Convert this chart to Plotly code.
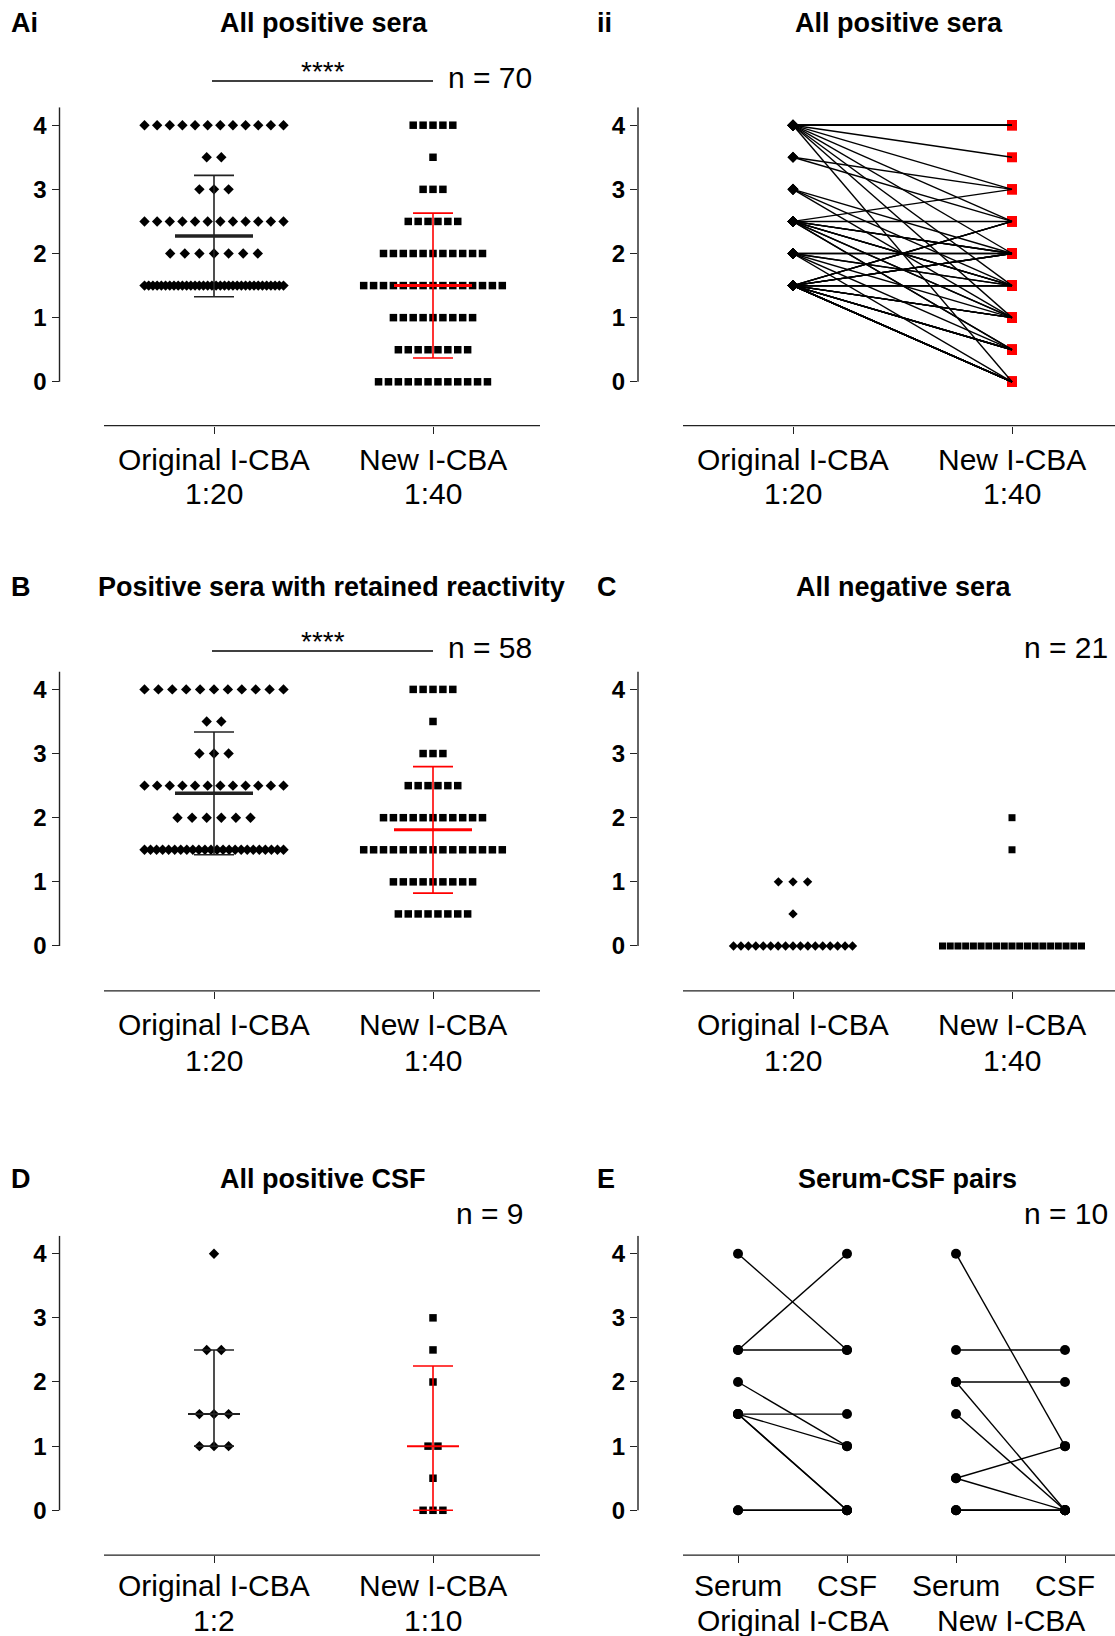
import numpy as np
import plotly.graph_objects as go

W, H = 1115, 1636
FONT = "Liberation Sans, Arial, Helvetica, sans-serif"

# ---------------- data ----------------
# All positive sera (paired): original I-CBA 1:20 score vs new I-CBA 1:40 score
ai_original = [4, 4, 4, 4, 4, 4, 4, 4, 4, 4, 4, 4,
               3.5, 3.5,
               3, 3, 3,
               2.5, 2.5, 2.5, 2.5, 2.5, 2.5, 2.5, 2.5, 2.5, 2.5, 2.5, 2.5,
               2, 2, 2, 2, 2, 2, 2,
               1.5, 1.5, 1.5, 1.5, 1.5, 1.5, 1.5, 1.5, 1.5, 1.5, 1.5, 1.5,
               1.5, 1.5, 1.5, 1.5, 1.5, 1.5, 1.5, 1.5, 1.5, 1.5, 1.5, 1.5,
               1.5, 1.5, 1.5, 1.5, 1.5, 1.5, 1.5, 1.5, 1.5, 1.5]
ai_new = [4, 4, 4, 4, 4, 3.5, 3, 2.5, 2, 1.5, 1, 0,
          3, 2.5,
          2, 1.5, 1,
          3, 2.5, 2, 2, 2, 1.5, 1.5, 1.5, 1, 1, 0.5, 0.5,
          2, 2, 1.5, 1.5, 1, 0.5, 0,
          2.5, 2.5, 2.5, 2, 2, 2, 2, 1.5, 1.5, 1.5, 1.5, 1.5,
          1.5, 1.5, 1.5, 1, 1, 1, 1, 0.5, 0.5, 0.5, 0.5, 0.5,
          0, 0, 0, 0, 0, 0, 0, 0, 0, 0]

# Positive sera with retained reactivity = pairs whose new score is > 0
b_original = [o for o, n in zip(ai_original, ai_new) if n > 0]
b_new = [n for n in ai_new if n > 0]

# All negative sera
c_original = [0, 0, 0, 0, 0, 0, 0, 0, 0, 0, 0, 0, 0, 0, 0, 0, 0, 0.5, 1, 1, 1]
c_new = [0, 0, 0, 0, 0, 0, 0, 0, 0, 0, 0, 0, 0, 0, 0, 0, 0, 0, 0, 1.5, 2]

# All positive CSF
d_original = [4, 2.5, 2.5, 1.5, 1.5, 1.5, 1, 1, 1]
d_new = [3, 2.5, 2, 1, 1, 0.5, 0, 0, 0]

# Serum-CSF pairs
e_orig_serum = [4, 2.5, 2.5, 2, 1.5, 1.5, 1.5, 1.5, 0, 0]
e_orig_csf = [2.5, 4, 2.5, 1, 1.5, 1, 0, 0, 0, 0]
e_new_serum = [4, 2.5, 2, 2, 1.5, 0.5, 0.5, 0, 0, 0]
e_new_csf = [1, 2.5, 2, 0, 0, 1, 0, 0, 0, 0]

y_ticks = [0, 1, 2, 3, 4]
assays = ["Original I-CBA", "New I-CBA"]
sera_dil = ["1:20", "1:40"]
csf_dil = ["1:2", "1:10"]
pair_samples = ["Serum", "CSF", "Serum", "CSF"]

titles = ["All positive sera", "All positive sera",
          "Positive sera with retained reactivity", "All negative sera",
          "All positive CSF", "Serum-CSF pairs"]
letters = ["Ai", "ii", "B", "C", "D", "E"]
n_labels = {1: "n = 70", 3: "n = 58", 4: "n = 21", 5: "n = 9", 6: "n = 10"}
signif = {1: "****", 3: "****"}

# ---------------- geometry (pixels) ----------------
ROWS = {1: (125.2, 381.8, 425.6, 23, 459, 494, 78),
        2: (689.4, 946.0, 990.9, 587, 1024, 1060, 648),
        3: (1253.7, 1510.3, 1555.1, 1179, 1585, 1620, 1213)}
LEFT = dict(yax=59.5, xstart=104, xright=540, cats=[214, 433], letter=9, nx=490)
RIGHT = dict(yax=638, xstart=683, xright=1115, cats=[793, 1012], letter=595, nx=1066)
PANELS = {
    1: dict(LEFT, row=1, title_x=324),
    2: dict(RIGHT, row=1, title_x=899),
    3: dict(LEFT, row=2, title_x=331),
    4: dict(RIGHT, row=2, title_x=904),
    5: dict(LEFT, row=3, title_x=323),
    6: dict(RIGHT, row=3, title_x=907, cats=[738, 847, 956, 1065]),
}
TOP_VAL = 4.28
LBL = 30

fig = go.Figure()
layout = {}
shapes = []
annotations = []
geo = {}


def px(xp, yp):
    return xp / W, 1 - yp / H


def ann(text, xp, yp, size, bold=False, xanchor="center"):
    x, y = px(xp, yp)
    annotations.append(dict(text=text, x=x, y=y, xref="paper", yref="paper",
                            xanchor=xanchor, yanchor="middle", showarrow=False,
                            font=dict(family=FONT, size=size, color="black",
                                      weight="bold" if bold else "normal")))


for k, p in PANELS.items():
    y4, y0, xax, ty, l1, l2, ny = ROWS[p["row"]]
    cats = p["cats"]
    ppx = cats[1] - cats[0]
    ppy = (y0 - y4) / 4
    top_px = y4 - (TOP_VAL - 4) * ppy
    xr = [-(cats[0] - p["yax"]) / ppx, (p["xright"] - cats[0]) / ppx]
    yr = [-(xax - y0) / ppy, TOP_VAL]
    sfx = "" if k == 1 else str(k)
    layout["xaxis" + sfx] = dict(domain=[p["yax"] / W, p["xright"] / W], range=xr,
                                 anchor="y" + sfx, showgrid=False, zeroline=False,
                                 showline=False, ticks="outside", ticklen=7, tickwidth=1.4,
                                 tickcolor="#222", tickvals=list(range(len(cats))),
                                 showticklabels=False, fixedrange=True)
    layout["yaxis" + sfx] = dict(domain=[1 - xax / H, 1 - top_px / H], range=yr,
                                 anchor="x" + sfx, showgrid=False, zeroline=False,
                                 showline=False, ticks="outside", ticklen=7, tickwidth=1.4,
                                 tickcolor="#222", tickvals=y_ticks,
                                 tickfont=dict(family=FONT, size=24, color="black", weight="bold"),
                                 fixedrange=True)
    xs_val = -(cats[0] - p["xstart"]) / ppx
    shapes.append(dict(type="line", xref="x" + sfx + " domain", yref="y" + sfx,
                       x0=0, x1=0, y0=0, y1=TOP_VAL, line=dict(color="#222", width=1.4)))
    shapes.append(dict(type="line", xref="x" + sfx, yref="y" + sfx + " domain",
                       x0=xs_val, x1=xr[1], y0=0, y1=0, line=dict(color="#222", width=1.4)))
    geo[k] = dict(ppx=ppx, sfx=sfx, xref="x" + sfx, yref="y" + sfx)
    # texts
    ann(titles[k - 1], p["title_x"], ty, 27, bold=True)
    ann(letters[k - 1], p["letter"], ty, 27, bold=True, xanchor="left")
    if k in n_labels:
        ann(n_labels[k], p["nx"], ny, LBL)
    if k in signif:
        x0, _ = px(212, 0)
        x1, _ = px(433, 0)
        _, ly = px(0, ny + 3)
        shapes.append(dict(type="line", xref="paper", yref="paper", x0=x0, x1=x1,
                           y0=ly, y1=ly, line=dict(color="black", width=1.4)))
        ann(signif[k], 323, ny - 6, 28)
    # category labels
    if k == 6:
        for i, s in enumerate(pair_samples):
            ann(s, cats[i], l1, LBL)
        ann(assays[0], (cats[0] + cats[1]) / 2, l2, LBL)
        ann(assays[1], (cats[2] + cats[3]) / 2, l2, LBL)
    else:
        dil = csf_dil if k == 5 else sera_dil
        for i in range(2):
            ann(assays[i], cats[i], l1, LBL)
            ann(dil[i], cats[i], l2, LBL)


def swarm_x(values, center, natural_px, ppx, max_w=139):
    v = np.asarray(values, dtype=float)
    xs = np.full(len(v), float(center))
    for u in np.unique(v):
        idx = np.where(v == u)[0]
        n = len(idx)
        if n > 1:
            sp = min(natural_px, max_w / (n - 1))
            xs[idx] = center + (np.arange(n) - (n - 1) / 2) * sp / ppx
    return xs


def scatter(k, values, center, symbol, size, natural, max_w=139, color="black"):
    g = geo[k]
    fig.add_trace(go.Scatter(x=swarm_x(values, center, natural, g["ppx"], max_w), y=values,
                             mode="markers", xaxis=g["xref"], yaxis=g["yref"],
                             marker=dict(symbol=symbol, size=size, color=color, line=dict(width=0)),
                             cliponaxis=False, showlegend=False, hoverinfo="y"))


def errbar(k, center, lo, mid, hi, color, mid_half_px, mid_w):
    g = geo[k]
    c = 20 / g["ppx"]
    m = mid_half_px / g["ppx"]
    fig.add_trace(go.Scatter(x=[center, center, None, center - c, center + c, None, center - c, center + c],
                             y=[lo, hi, None, lo, lo, None, hi, hi], mode="lines",
                             xaxis=g["xref"], yaxis=g["yref"], line=dict(color=color, width=1.6),
                             cliponaxis=False, showlegend=False, hoverinfo="skip"))
    fig.add_trace(go.Scatter(x=[center - m, center + m], y=[mid, mid], mode="lines",
                             xaxis=g["xref"], yaxis=g["yref"], line=dict(color=color, width=mid_w),
                             cliponaxis=False, showlegend=False, hoverinfo="skip"))


def mean_sd(vals):
    a = np.asarray(vals, dtype=float)
    m, s = a.mean(), a.std(ddof=1)
    return m - s, m, m + s


def med_iqr(vals):
    a = np.asarray(vals, dtype=float)
    q1, q2, q3 = np.percentile(a, [25, 50, 75], method="weibull")
    return q1, q2, q3


# Panel Ai
scatter(1, ai_original, 0, "diamond", 8, 14.6)
scatter(1, ai_new, 1, "square", 7.5, 9.9)
errbar(1, 0, *mean_sd(ai_original), "#222", 39, 3.5)
errbar(1, 1, *mean_sd(ai_new), "red", 39, 3)

# Panel ii (paired lines)
g = geo[2]
lx, ly = [], []
for o, n in zip(ai_original, ai_new):
    lx += [0, 1, None]
    ly += [o, n, None]
fig.add_trace(go.Scatter(x=[1] * len(ai_new), y=ai_new, mode="markers", xaxis=g["xref"], yaxis=g["yref"],
                         marker=dict(symbol="square", size=10, color="red", line=dict(width=0)),
                         cliponaxis=False, showlegend=False))
fig.add_trace(go.Scatter(x=lx, y=ly, mode="lines", xaxis=g["xref"], yaxis=g["yref"],
                         line=dict(color="black", width=1.4), cliponaxis=False, showlegend=False))
fig.add_trace(go.Scatter(x=[0] * len(ai_original), y=ai_original, mode="markers", xaxis=g["xref"],
                         yaxis=g["yref"], marker=dict(symbol="diamond", size=8.5, color="black"),
                         cliponaxis=False, showlegend=False))

# Panel B
scatter(3, b_original, 0, "diamond", 8, 14.6)
scatter(3, b_new, 1, "square", 7.5, 9.9)
errbar(3, 0, *mean_sd(b_original), "#222", 39, 3.5)
errbar(3, 1, *mean_sd(b_new), "red", 39, 3)

# Panel C
scatter(4, c_original, 0, "diamond", 7.2, 14.6, max_w=119)
scatter(4, c_new, 1, "square", 7, 9.9)

# Panel D
scatter(5, d_original, 0, "diamond", 8, 14.6)
scatter(5, d_new, 1, "square", 7.5, 9.9)
errbar(5, 0, *med_iqr(d_original), "#222", 26, 2)
errbar(5, 1, *med_iqr(d_new), "red", 26, 2)

# Panel E
g = geo[6]
for (s_vals, c_vals, xs) in [(e_orig_serum, e_orig_csf, (0, 1)), (e_new_serum, e_new_csf, (2, 3))]:
    lx, ly = [], []
    for a, b in zip(s_vals, c_vals):
        lx += [xs[0], xs[1], None]
        ly += [a, b, None]
    fig.add_trace(go.Scatter(x=lx, y=ly, mode="lines", xaxis=g["xref"], yaxis=g["yref"],
                             line=dict(color="black", width=1.4), cliponaxis=False, showlegend=False))
    fig.add_trace(go.Scatter(x=[xs[0]] * len(s_vals) + [xs[1]] * len(c_vals), y=s_vals + c_vals,
                             mode="markers", xaxis=g["xref"], yaxis=g["yref"],
                             marker=dict(symbol="circle", size=10, color="black"),
                             cliponaxis=False, showlegend=False))

layout.update(width=W, height=H, margin=dict(l=0, r=0, t=0, b=0),
              paper_bgcolor="white", plot_bgcolor="white", showlegend=False,
              shapes=shapes, annotations=annotations,
              font=dict(family=FONT, color="black"))
fig.update_layout(**layout)
fig.write_html("out.html", config={"displayModeBar": False})
